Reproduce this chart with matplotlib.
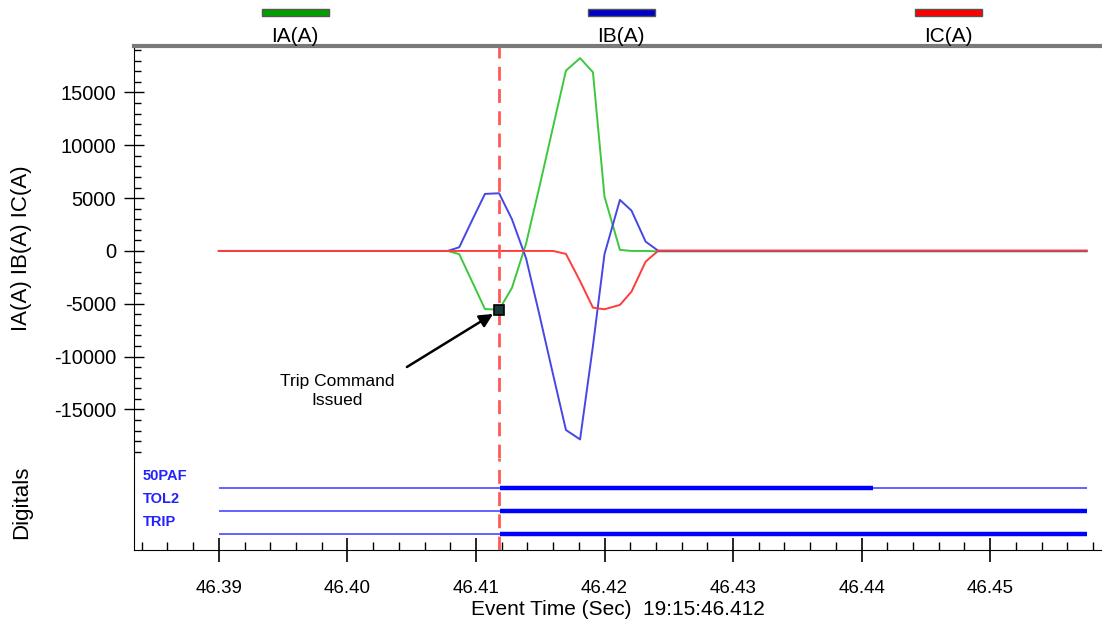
import matplotlib
matplotlib.use("Agg")
import matplotlib.pyplot as plt
from matplotlib.patches import Rectangle
from matplotlib.ticker import MultipleLocator

plt.rcParams['font.family'] = ['Liberation Sans', 'DejaVu Sans']
plt.rcParams['axes.unicode_minus'] = False

# sample times (s) and phase currents (A)
t = [46.3900, 46.4078, 46.4087, 46.4097, 46.4107, 46.4118, 46.4128, 46.4139,
     46.41495, 46.4160, 46.4170, 46.4181, 46.4191, 46.4200, 46.4212, 46.4221,
     46.4232, 46.4242, 46.4575]
ia = [0, 0, -300, -2900, -5500, -5560, -3500, 700,
      6140, 11750, 17070, 18250, 16920, 5140, 100, 0,
      0, -40, -40]
ib = [0, 0, 350, 2900, 5400, 5460, 3000, -700,
      -6110, -11700, -16950, -17840, -9000, -300, 4830, 3820,
      880, 0, 0]
ic = [0, 0, 0, 0, 0, 0, 0, 0,
      0, 0, -280, -2850, -5370, -5520, -5110, -3850,
      -1010, 40, 40]

names = ['IA(A)', 'IB(A)', 'IC(A)']
colors = ['#3cc83c', '#4646e6', '#ff3c3c']
swatch = ['#00a000', '#0000c8', '#ff0000']

# digital channels: name, pickup time, dropout time
dig_names = ['50PAF', 'TOL2', 'TRIP']
dig_on = [46.4119, 46.4119, 46.4119]
dig_off = [46.4409, 46.4575, 46.4575]
t_start, t_end = 46.3900, 46.4575
t_trip = 46.4118
trip_val = -5560

fig = plt.figure(figsize=(11.02, 6.25), dpi=100)
ax = fig.add_axes([134 / 1102, 1 - 458 / 625, 1 - 134 / 1102, (458 - 46) / 625])
axd = fig.add_axes([134 / 1102, 1 - 550 / 625, 1 - 134 / 1102, (550 - 458) / 625], sharex=ax)

for y, c in zip([ia, ib, ic], colors):
    ax.plot(t, y, color=c, lw=1.4)

ax.set_xlim(46.3834, 46.4587)
ax.set_ylim(-19600, 19400)
ax.yaxis.set_minor_locator(MultipleLocator(1000))
ax.set_yticks([-15000, -10000, -5000, 0, 5000, 10000, 15000])
ax.tick_params(axis='y', which='major', direction='inout', length=14, width=1, labelsize=14.5, pad=6)
ax.tick_params(axis='y', which='minor', direction='in', length=5, width=1)
ax.tick_params(axis='x', which='both', bottom=False, labelbottom=False)
ax.spines['right'].set_visible(False)
ax.spines['bottom'].set_visible(False)
ax.spines['top'].set_color('#7a7a7a')
ax.spines['top'].set_linewidth(3)
ax.patch.set_alpha(0)

ax.axvline(t_trip, color='#ff5a5a', lw=2, dashes=(5, 3))
ax.plot([t_trip], [trip_val], 's', ms=7, mfc='#1a3a3a', mec='black', mew=1.2, zorder=5)
ax.annotate('', xy=(46.41133, -5966), xytext=(46.40463, -10985),
            arrowprops=dict(arrowstyle='-|>', color='black', lw=1.8, mutation_scale=20,
                            shrinkA=0, shrinkB=0))
ax.text(46.3992, -13260, 'Trip Command\nIssued', ha='center', va='center',
        fontsize=12.5, linespacing=1.4)

# digitals
for i, (nm, on, off) in enumerate(zip(dig_names, dig_on, dig_off)):
    lvl = 2.7 - i
    axd.plot([t_start, on], [lvl, lvl], color='#5555ff', lw=1.3, solid_capstyle='butt')
    axd.plot([on, off], [lvl, lvl], color='#0000ff', lw=3.2, solid_capstyle='butt')
    if off < t_end:
        axd.plot([off, t_end], [lvl, lvl], color='#5555ff', lw=1.3, solid_capstyle='butt')
    axd.text(46.3841, lvl + 0.5, nm, color='#2222ff', fontsize=10.5, fontweight='bold',
             va='center', ha='left')
axd.axvline(t_trip, color='#ff5a5a', lw=2, dashes=(5, 3))
axd.set_ylim(0, 4)
axd.set_yticks([])
axd.spines['right'].set_visible(False)
axd.spines['top'].set_visible(False)
axd.patch.set_alpha(0)
axd.xaxis.set_minor_locator(MultipleLocator(0.002))
axd.set_xticks([46.39, 46.40, 46.41, 46.42, 46.43, 46.44, 46.45])
axd.set_xticklabels(['46.39', '46.40', '46.41', '46.42', '46.43', '46.44', '46.45'])
axd.tick_params(axis='x', which='major', direction='inout', length=17, width=1.2, labelsize=13.5, pad=13)
axd.tick_params(axis='x', which='minor', direction='in', length=6, width=1)
axd.set_xlabel('Event Time (Sec)  19:15:46.412', fontsize=15, labelpad=2)

# header legend
for nm, c, xc in zip(names, swatch, [295, 621, 948]):
    fig.add_artist(Rectangle(((xc - 33) / 1102, 1 - 16 / 625), 67 / 1102, 7 / 625,
                             transform=fig.transFigure, facecolor=c, edgecolor='#555555', lw=1))
    fig.text(xc / 1102, 1 - 37 / 625, nm, ha='center', va='center', fontsize=15)

fig.text(22 / 1102, 1 - 248 / 625, 'IA(A) IB(A) IC(A)', rotation=90, ha='center', va='center', fontsize=16)
fig.text(22 / 1102, 1 - 502 / 625, 'Digitals', rotation=90, ha='center', va='center', fontsize=16)

fig.savefig('out.png', dpi=100)
